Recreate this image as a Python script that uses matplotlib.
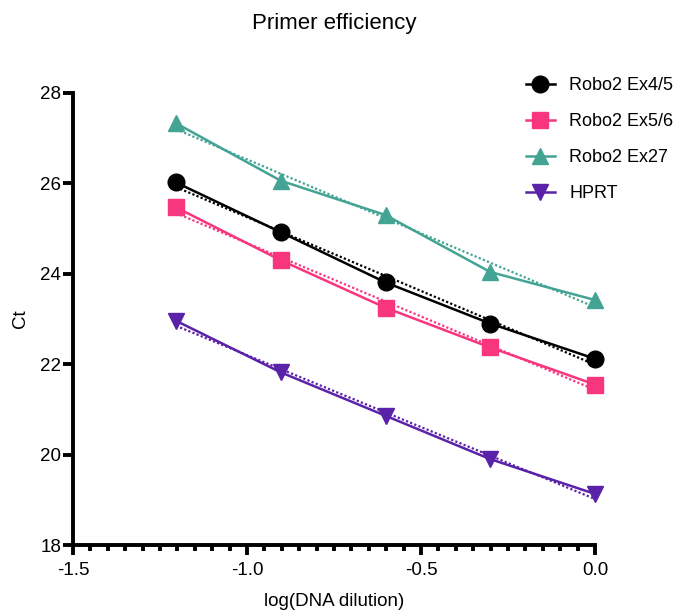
import numpy as np
import matplotlib
matplotlib.use("Agg")
import matplotlib.pyplot as plt
from matplotlib.ticker import MultipleLocator

plt.rcParams['font.family'] = ['Liberation Sans', 'DejaVu Sans']
plt.rcParams['axes.unicode_minus'] = False

log_dilution = [-1.204, -0.903, -0.602, -0.301, 0.0]
series_names = ["Robo2 Ex4/5", "Robo2 Ex5/6", "Robo2 Ex27", "HPRT"]
ct_ex45 = [26.02, 24.92, 23.81, 22.90, 22.12]
ct_ex56 = [25.47, 24.30, 23.25, 22.37, 21.55]
ct_ex27 = [27.33, 26.06, 25.30, 24.04, 23.42]
ct_hprt = [22.96, 21.82, 20.86, 19.90, 19.13]

colors = ["#000000", "#F7367E", "#44A494", "#5A22A8"]
markers = ["o", "s", "^", "v"]

fig = plt.figure(figsize=(6.85, 6.16), dpi=100)
ax = fig.add_axes([73/685, 1-545/616, (595-73)/685, (545-93)/616])

x = np.array(log_dilution)
for name, ys, c, m in zip(series_names, [ct_ex45, ct_ex56, ct_ex27, ct_hprt], colors, markers):
    ys = np.array(ys)
    ax.plot(x, ys, color=c, lw=1.8, marker=m, markersize=12, label=name,
            clip_on=False, zorder=3)
    k, b = np.polyfit(x, ys, 1)
    ax.plot([x.min(), x.max()], [k*x.min()+b, k*x.max()+b], color=c, lw=1.6,
            linestyle=(0, (1, 1)), clip_on=False, zorder=2)

ax.set_xlim(-1.5, 0.0)
ax.set_ylim(18, 28)
ax.xaxis.set_minor_locator(MultipleLocator(0.05))
ax.yaxis.set_major_locator(MultipleLocator(2))
ax.set_xticks([-1.5, -1.0, -0.5, 0.0])
ax.set_xticklabels(["-1.5", "-1.0", "-0.5", "0.0"])

for s in ["top", "right"]:
    ax.spines[s].set_visible(False)
for s in ["left", "bottom"]:
    ax.spines[s].set_linewidth(2.8)
    ax.spines[s].set_capstyle('projecting')

ax.tick_params(axis='both', which='major', length=7, width=2.8, labelsize=13.5, colors='black')
ax.tick_params(axis='x', which='major', pad=5.5)
ax.tick_params(axis='y', which='major', pad=1.5)
ax.tick_params(axis='x', which='minor', length=4.5, width=2.8)

ax.set_xlabel("log(DNA dilution)", fontsize=13.5, labelpad=10)
ax.set_ylabel("Ct", fontsize=13.5, labelpad=8)
fig.text(334/685, 1-29/616, "Primer efficiency", fontsize=16, ha='center', va='baseline')

leg = ax.legend(loc='upper left', bbox_to_anchor=(526/685, 1-77/616),
                bbox_transform=fig.transFigure, frameon=False, fontsize=13,
                handlelength=1.6, handletextpad=0.8, labelspacing=1.05,
                borderpad=0, borderaxespad=0)

fig.savefig("out.png", dpi=100)
